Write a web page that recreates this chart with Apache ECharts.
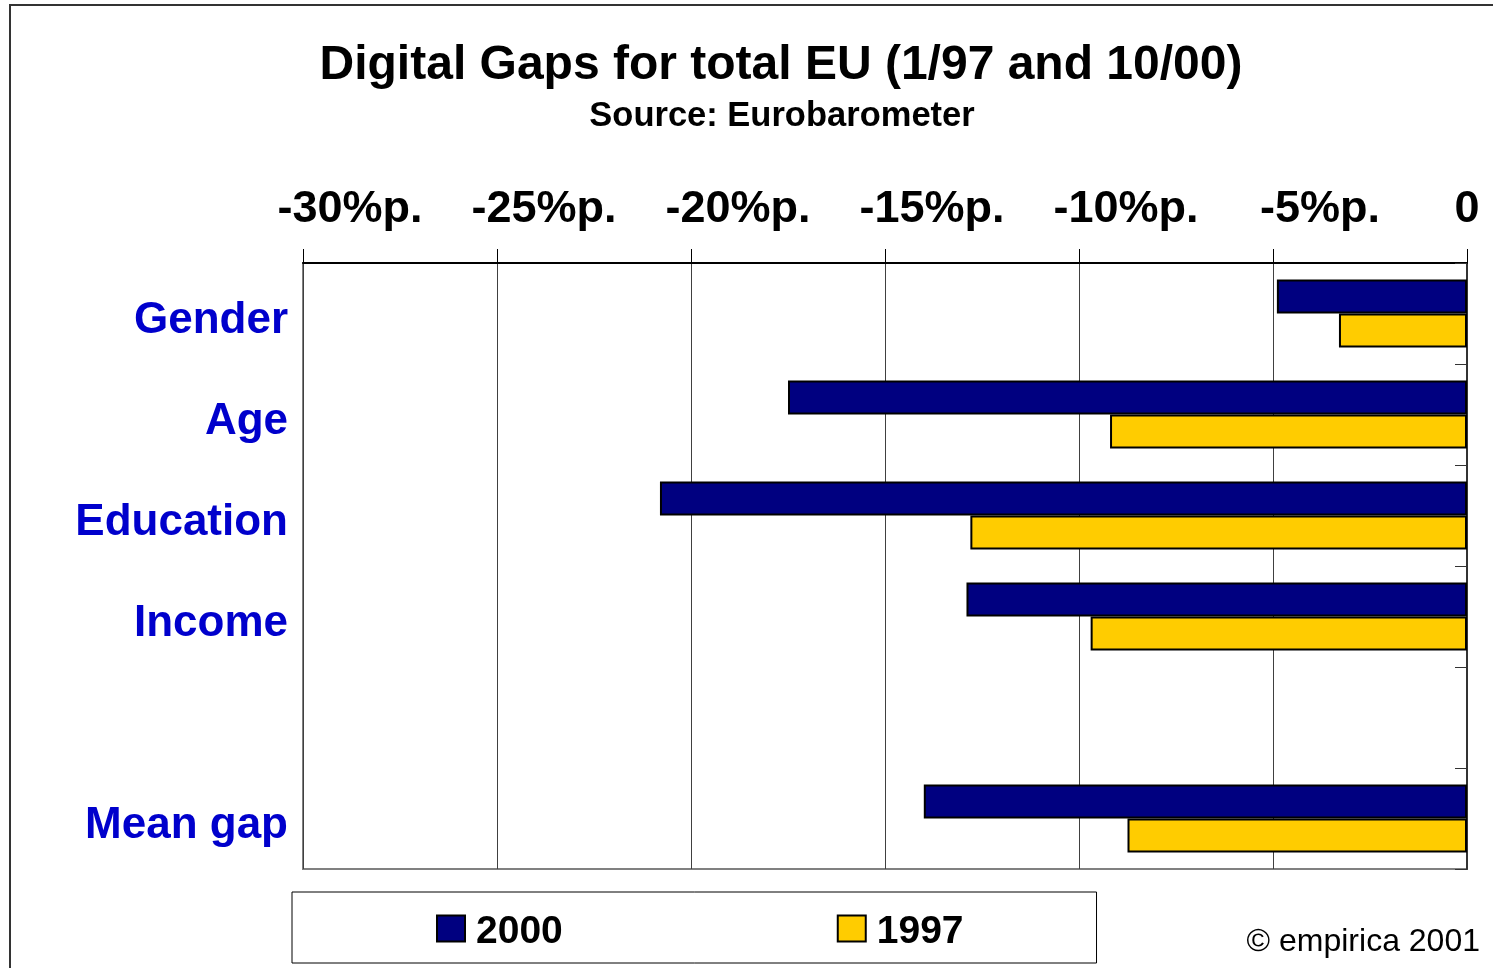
<!DOCTYPE html>
<html>
<head>
<meta charset="utf-8">
<script src="https://cdn.jsdelivr.net/npm/echarts@6/dist/echarts.min.js"></script>
<style>
  html, body { margin: 0; padding: 0; background: #fff; }
  #chart { width: 1493px; height: 968px; }
</style>
</head>
<body>
<div id="chart"></div>
<script>
// categories (empty slot between Income and Mean gap)
const categories = ['Gender', 'Age', 'Education', 'Income', '', 'Mean gap']
const seriesNames = ['2000', '1997']
// gaps in percentage points
const gap2000 = [-4.9, -17.5, -20.8, -12.9, '-', -14.0]
const gap1997 = [-3.3, -9.2, -12.8, -9.7, '-', -8.75]
const xTicks = { min: -30, max: 0, step: 5 }

const FONT = '"Liberation Sans", Arial, sans-serif'

function generateChart () {
  var myChart = echarts.init(document.getElementById('chart'))
  var option

  option = {
    animation: false,
    textStyle: { fontFamily: FONT },
    grid: {
      left: 303, right: 26, top: 263, bottom: 99,
      show: true,
      borderColor: '#808080',
      borderWidth: 2
    },
    xAxis: {
      type: 'value',
      position: 'top',
      min: xTicks.min,
      max: xTicks.max,
      interval: xTicks.step,
      axisLine: { show: true, lineStyle: { color: '#000', width: 2 } },
      axisTick: { show: true, length: 14, lineStyle: { color: '#000', width: 1 } },
      splitLine: { show: true, lineStyle: { color: '#404040', width: 1 } },
      axisLabel: {
        margin: 31,
        formatter: function (v) {
          return v === 0 ? '{z|0}' : '{a|' + v + '%p.}'
        },
        rich: {
          a: { fontSize: 45, fontWeight: 'bold', color: '#000', fontFamily: FONT, padding: [0, 0, 0, 94] },
          z: { fontSize: 45, fontWeight: 'bold', color: '#000', fontFamily: FONT }
        }
      }
    },
    yAxis: [
      {
        type: 'category',
        inverse: true,
        data: categories,
        axisLine: { show: true, lineStyle: { color: '#808080', width: 2 } },
        axisTick: { show: false },
        axisLabel: {
          margin: 15,
          formatter: function (v) { return '{c|' + v + '}' },
          rich: {
            c: {
              fontSize: 44, fontWeight: 'bold', color: '#0000cc', fontFamily: FONT,
              padding: [14, 0, 0, 0]
            }
          }
        }
      },
      {
        type: 'category',
        inverse: true,
        position: 'right',
        data: categories,
        axisLine: { show: true, lineStyle: { color: '#333', width: 2 } },
        axisTick: { show: true, inside: true, length: 12, lineStyle: { color: '#333', width: 1 } },
        axisLabel: { show: false }
      }
    ],
    legend: {
      data: seriesNames,
      left: 292,
      top: 892,
      orient: 'horizontal',
      padding: [13, 133, 11, 144],
      borderColor: '#000',
      borderWidth: 1,
      itemWidth: 28,
      itemHeight: 26,
      itemGap: 274,
      icon: 'rect',
      formatter: '{l|{name}}',
      textStyle: {
        rich: {
          l: {
            fontSize: 39, fontWeight: 'bold', color: '#000', fontFamily: FONT,
            lineHeight: 36, padding: [8, 0, 0, 6]
          }
        }
      }
    },
    graphic: [
      {
        type: 'rect',
        silent: true,
        shape: { x: 10, y: 5, width: 1600, height: 1100 },
        style: { fill: 'none', stroke: '#333', lineWidth: 2 }
      },
      {
        type: 'text',
        x: 781, y: 66,
        style: {
          text: 'Digital Gaps for total EU (1/97 and 10/00)',
          fontSize: 48, fontWeight: 'bold', fontFamily: FONT, fill: '#000',
          textAlign: 'center', textVerticalAlign: 'middle'
        }
      },
      {
        type: 'text',
        x: 782, y: 116,
        style: {
          text: 'Source: Eurobarometer',
          fontSize: 34.5, fontWeight: 'bold', fontFamily: FONT, fill: '#000',
          textAlign: 'center', textVerticalAlign: 'middle'
        }
      },
      {
        type: 'text',
        x: 1480, y: 942,
        style: {
          text: '© empirica 2001',
          fontSize: 32, fontFamily: FONT, fill: '#000',
          textAlign: 'right', textVerticalAlign: 'middle'
        }
      }
    ],
    series: [
      {
        name: seriesNames[0],
        type: 'bar',
        data: gap2000,
        barWidth: 34,
        barGap: '0%',
        itemStyle: { color: '#000080', borderColor: '#000', borderWidth: 2 }
      },
      {
        name: seriesNames[1],
        type: 'bar',
        data: gap1997,
        barWidth: 34,
        barGap: '0%',
        itemStyle: { color: '#ffcc00', borderColor: '#000', borderWidth: 2 }
      }
    ]
  }

  option && myChart.setOption(option)
}

generateChart()
</script>
</body>
</html>
